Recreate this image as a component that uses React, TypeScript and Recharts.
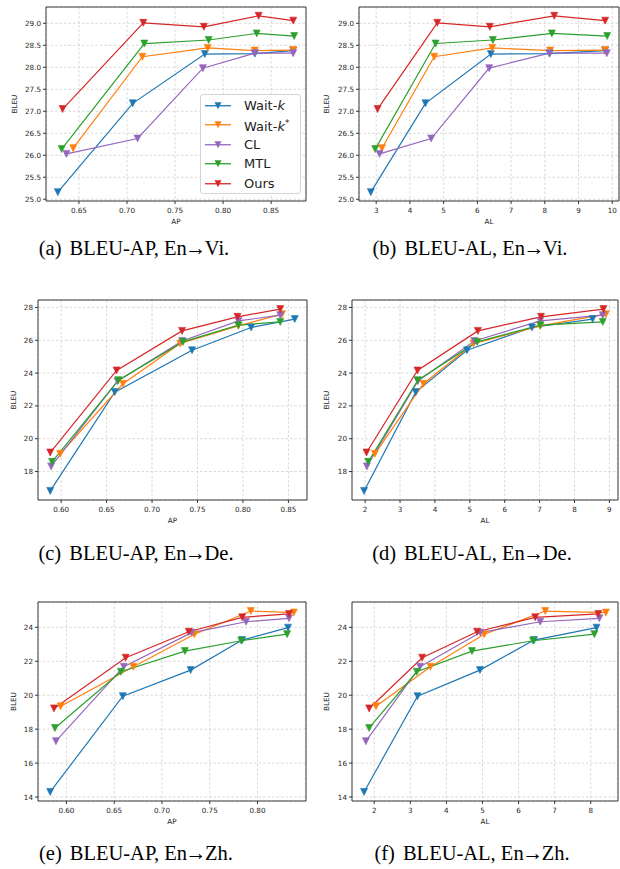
import React from 'react';
import { LineChart, Line, XAxis, YAxis, CartesianGrid, ReferenceArea, Legend } from 'recharts';

// Series order: Wait-k, Wait-k*, CL, MTL, Ours
const SERIES_NAMES = ['Wait-k', 'Wait-k*', 'CL', 'MTL', 'Ours'];
const SERIES_COLORS = ['#1f77b4', '#ff7f0e', '#9467bd', '#2ca02c', '#d62728'];

// En→Vi
const viBLEU = [
  [25.16, 27.18, 28.30, 28.31, 28.38],
  [26.16, 28.24, 28.44, 28.38, 28.39],
  [26.03, 26.38, 27.98, 28.32, 28.32],
  [26.14, 28.54, 28.62, 28.77, 28.71],
  [27.05, 29.01, 28.92, 29.17, 29.06],
];
const viAP = [
  [0.628, 0.706, 0.781, 0.833, 0.873],
  [0.644, 0.716, 0.784, 0.833, 0.873],
  [0.637, 0.711, 0.779, 0.833, 0.873],
  [0.632, 0.718, 0.785, 0.835, 0.874],
  [0.633, 0.717, 0.780, 0.837, 0.873],
];
const viAL = [
  [2.84, 4.46, 6.40, 8.14, 9.79],
  [3.17, 4.72, 6.44, 8.16, 9.79],
  [3.10, 4.63, 6.35, 8.14, 9.84],
  [2.97, 4.76, 6.46, 8.21, 9.85],
  [3.04, 4.81, 6.37, 8.28, 9.79],
];

// En→De
const deBLEU = [
  [16.82, 22.84, 25.39, 26.78, 27.29],
  [19.08, 23.35, 25.80, 26.88, 27.59],
  [18.31, 23.51, 25.96, 27.18, 27.53],
  [18.59, 23.57, 25.90, 26.92, 27.12],
  [19.16, 24.16, 26.57, 27.43, 27.90],
];
const deAP = [
  [0.588, 0.659, 0.744, 0.809, 0.857],
  [0.599, 0.668, 0.731, 0.795, 0.843],
  [0.589, 0.662, 0.733, 0.795, 0.841],
  [0.590, 0.663, 0.734, 0.795, 0.841],
  [0.588, 0.661, 0.733, 0.794, 0.841],
];
const deAL = [
  [1.97, 3.45, 4.92, 6.78, 8.52],
  [2.28, 3.67, 5.11, 7.02, 8.90],
  [2.05, 3.51, 5.13, 7.02, 8.81],
  [2.09, 3.51, 5.21, 7.02, 8.81],
  [2.04, 3.50, 5.23, 7.04, 8.83],
];

// En→Zh
const zhBLEU = [
  [14.30, 19.94, 21.48, 23.25, 23.98],
  [19.35, 21.68, 23.59, 24.96, 24.87],
  [17.29, 21.68, 23.69, 24.33, 24.53],
  [18.07, 21.38, 22.60, 23.21, 23.60],
  [19.22, 22.21, 23.74, 24.59, 24.79],
];
const zhAP = [
  [0.583, 0.659, 0.730, 0.784, 0.832],
  [0.594, 0.670, 0.734, 0.793, 0.838],
  [0.589, 0.660, 0.731, 0.788, 0.833],
  [0.588, 0.657, 0.724, 0.783, 0.831],
  [0.587, 0.662, 0.728, 0.784, 0.833],
];
const zhAL = [
  [1.72, 3.20, 4.93, 6.43, 8.16],
  [2.05, 3.56, 5.05, 6.74, 8.42],
  [1.77, 3.27, 4.94, 6.60, 8.24],
  [1.86, 3.18, 4.71, 6.40, 8.10],
  [1.86, 3.33, 4.85, 6.46, 8.21],
];

// Tick labels
const viYTicks = [25.0, 25.5, 26.0, 26.5, 27.0, 27.5, 28.0, 28.5, 29.0];
const viAPTicks = [0.65, 0.7, 0.75, 0.8, 0.85];
const viALTicks = [3, 4, 5, 6, 7, 8, 9, 10];
const deYTicks = [18, 20, 22, 24, 26, 28];
const deAPTicks = [0.6, 0.65, 0.7, 0.75, 0.8, 0.85];
const deALTicks = [2, 3, 4, 5, 6, 7, 8, 9];
const zhYTicks = [14, 16, 18, 20, 22, 24];
const zhAPTicks = [0.6, 0.65, 0.7, 0.75, 0.8];
const zhALTicks = [2, 3, 4, 5, 6, 7, 8];

// Captions: [label, metric, target language]
const CAPTIONS = [
  ['(a)', 'BLEU-AP, En', 'Vi.'],
  ['(b)', 'BLEU-AL, En', 'Vi.'],
  ['(c)', 'BLEU-AP, En', 'De.'],
  ['(d)', 'BLEU-AL, En', 'De.'],
  ['(e)', 'BLEU-AP, En', 'Zh.'],
  ['(f)', 'BLEU-AL, En', 'Zh.'],
];

const FONT = 'DejaVu Sans, Verdana, sans-serif';
const TICK_STYLE = { fontSize: 7.2, fill: '#262626', fontFamily: FONT };

const pad = (vals: number[]) => {
  const mn = Math.min(...vals);
  const mx = Math.max(...vals);
  const r = mx - mn;
  return [mn - 0.05 * r, mx + 0.05 * r];
};

const triDot = (color: string) => (props: any) => {
  const { cx, cy, index } = props;
  if (cx == null || cy == null) return <g key={`d-${index}`} />;
  const r = 3.5;
  return (
    <path
      key={`d-${index}`}
      d={`M${cx - r},${cy - r}L${cx + r},${cy - r}L${cx},${cy + r}Z`}
      fill={color}
      stroke={color}
      strokeWidth={0.6}
    />
  );
};

const LegendBox = () => (
  <div
    style={{
      width: 101,
      height: 100,
      boxSizing: 'border-box',
      border: '1px solid #d4d4d4',
      borderRadius: 3,
      background: 'rgba(255,255,255,0.85)',
      paddingTop: 0.5,
      fontFamily: FONT,
    }}
  >
    {SERIES_NAMES.map((name, i) => (
      <div key={name} style={{ display: 'flex', alignItems: 'center', height: 19.5 }}>
        <svg width={43} height={19.5} style={{ flex: 'none' }}>
          <line x1={4} x2={30} y1={9.75} y2={9.75} stroke={SERIES_COLORS[i]} strokeWidth={1.3} />
          <path d={`M13.5,6.25L20.5,6.25L17,13.25Z`} fill={SERIES_COLORS[i]} />
        </svg>
        <span style={{ fontSize: 13, color: '#222', lineHeight: '19.5px', whiteSpace: 'nowrap' }}>
          {name.startsWith('Wait') ? (
            <>
              Wait-<i>k</i>
              {name.endsWith('*') ? <sup style={{ fontSize: 9, verticalAlign: 5 }}>*</sup> : null}
            </>
          ) : (
            name
          )}
        </span>
      </div>
    ))}
  </div>
);

type PanelProps = {
  left: number;
  top: number;
  height: number;
  marginTop: number;
  marginRight: number;
  yAxisWidth: number;
  xAxisHeight: number;
  labelX: number;
  xs: number[][];
  ys: number[][];
  xTicks: number[];
  yTicks: number[];
  xDigits: number;
  yDigits: number;
  xLabel: string;
  legend?: boolean;
};

const Panel = (p: PanelProps) => {
  const xDom = pad(p.xs.flat());
  const yDom = pad(p.ys.flat());
  const yLabel = (props: any) => {
    const vb = props.viewBox || { x: 0, y: 0, height: 0 };
    const x = vb.x + p.labelX;
    const cy = vb.y + vb.height / 2;
    return (
      <text
        x={x}
        y={cy}
        transform={`rotate(-90 ${x} ${cy})`}
        textAnchor="middle"
        dominantBaseline="central"
        fontSize={7.2}
        fontFamily={FONT}
        fill="#262626"
      >
        BLEU
      </text>
    );
  };
  const xLabel = (props: any) => {
    const vb = props.viewBox || { x: 0, y: 0, width: 0 };
    return (
      <text
        x={vb.x + vb.width / 2}
        y={vb.y + 20.5}
        textAnchor="middle"
        dominantBaseline="central"
        fontSize={7.2}
        fontFamily={FONT}
        fill="#262626"
      >
        {p.xLabel}
      </text>
    );
  };
  return (
    <div style={{ position: 'absolute', left: p.left, top: p.top }}>
      <LineChart
        width={310}
        height={p.height}
        margin={{ top: p.marginTop, right: p.marginRight, left: 0, bottom: 0 }}
      >
        <CartesianGrid stroke="#c9c9c9" strokeDasharray="2.5 2" strokeWidth={0.7} />
        <XAxis
          type="number"
          dataKey="x"
          domain={xDom}
          ticks={p.xTicks}
          interval={0}
          allowDataOverflow
          height={p.xAxisHeight}
          tickFormatter={(v: number) => v.toFixed(p.xDigits)}
          tick={TICK_STYLE}
          tickSize={3}
          tickMargin={4}
          tickLine={{ stroke: '#333' }}
          axisLine={false}
          label={{ content: xLabel }}
        />
        <YAxis
          type="number"
          domain={yDom}
          ticks={p.yTicks}
          interval={0}
          allowDataOverflow
          width={p.yAxisWidth}
          tickFormatter={(v: number) => v.toFixed(p.yDigits)}
          tick={TICK_STYLE}
          tickSize={3}
          tickMargin={2}
          tickLine={{ stroke: '#333' }}
          axisLine={false}
          label={{ content: yLabel }}
        />
        <ReferenceArea
          x1={xDom[0]}
          x2={xDom[1]}
          y1={yDom[0]}
          y2={yDom[1]}
          fill="none"
          fillOpacity={0}
          stroke="#3a3a3a"
          strokeWidth={1}
          ifOverflow="visible"
        />
        {SERIES_NAMES.map((name, i) => (
          <Line
            key={name}
            name={name}
            data={p.xs[i].map((xv, j) => ({ x: xv, y: p.ys[i][j] }))}
            dataKey="y"
            stroke={SERIES_COLORS[i]}
            strokeWidth={1.2}
            dot={triDot(SERIES_COLORS[i])}
            activeDot={false}
            isAnimationActive={false}
          />
        ))}
        {p.legend ? (
          <Legend
            layout="vertical"
            align="center"
            verticalAlign="middle"
            content={() => <LegendBox />}
            wrapperStyle={{ left: 200, top: 94, width: 101, height: 100 }}
          />
        ) : null}
      </LineChart>
    </div>
  );
};

const captionStyle = (cx: number, cy: number): React.CSSProperties => ({
  position: 'absolute',
  left: cx - 150,
  top: cy - 14,
  width: 300,
  height: 28,
  lineHeight: '28px',
  textAlign: 'center',
  fontFamily: 'Liberation Serif, Times New Roman, serif',
  fontSize: 20.5,
  color: '#000',
  whiteSpace: 'nowrap',
});

const CAPTION_POS = [
  [134, 248],
  [470, 248],
  [136, 553],
  [472, 553],
  [136, 853],
  [472, 853],
];

export default function App() {
  return (
    <div style={{ position: 'absolute', left: 0, top: 0, width: 620, height: 869, background: '#fff', overflow: 'hidden' }}>
      <Panel left={0} top={0} height={230} marginTop={7} marginRight={4} yAxisWidth={46} xAxisHeight={29} labelX={14}
        xs={viAP} ys={viBLEU} xTicks={viAPTicks} yTicks={viYTicks} xDigits={2} yDigits={1} xLabel="AP" legend />
      <Panel left={310} top={0} height={230} marginTop={7} marginRight={1} yAxisWidth={49} xAxisHeight={29} labelX={16.7}
        xs={viAL} ys={viBLEU} xTicks={viALTicks} yTicks={viYTicks} xDigits={0} yDigits={1} xLabel="AL" />
      <Panel left={0} top={290} height={240} marginTop={10} marginRight={3} yAxisWidth={38} xAxisHeight={30} labelX={13.3}
        xs={deAP} ys={deBLEU} xTicks={deAPTicks} yTicks={deYTicks} xDigits={2} yDigits={0} xLabel="AP" />
      <Panel left={310} top={290} height={240} marginTop={10} marginRight={2} yAxisWidth={42} xAxisHeight={30} labelX={16.7}
        xs={deAL} ys={deBLEU} xTicks={deALTicks} yTicks={deYTicks} xDigits={0} yDigits={0} xLabel="AL" />
      <Panel left={0} top={590} height={240} marginTop={12} marginRight={4} yAxisWidth={38} xAxisHeight={29} labelX={13.3}
        xs={zhAP} ys={zhBLEU} xTicks={zhAPTicks} yTicks={zhYTicks} xDigits={2} yDigits={0} xLabel="AP" />
      <Panel left={310} top={590} height={240} marginTop={12} marginRight={2} yAxisWidth={42} xAxisHeight={29} labelX={16.7}
        xs={zhAL} ys={zhBLEU} xTicks={zhALTicks} yTicks={zhYTicks} xDigits={0} yDigits={0} xLabel="AL" />
      {CAPTIONS.map((c, i) => (
        <div key={c[0]} style={captionStyle(CAPTION_POS[i][0], CAPTION_POS[i][1])}>
          {c[0]}
          <span style={{ marginLeft: 8 }}>{c[1]}</span>
          <span style={{ display: 'inline-block', margin: '0 -1.5px', fontSize: 21 }}>{'\u2192'}</span>
          {c[2]}
        </div>
      ))}
    </div>
  );
}
